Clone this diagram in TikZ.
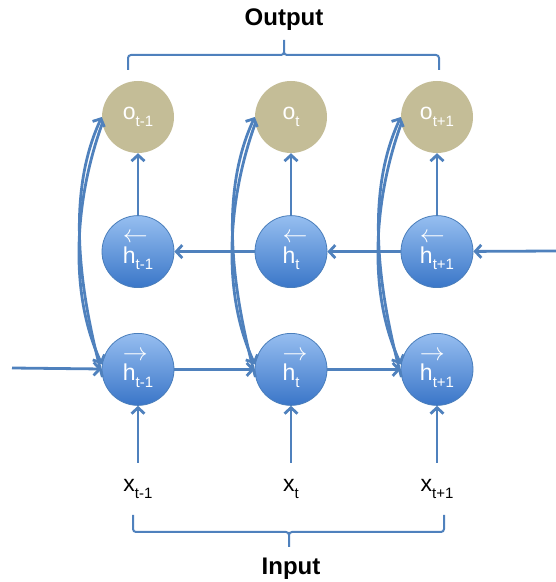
\documentclass[tikz,border=0pt]{standalone}
\usepackage{fontspec}
\setmainfont{Liberation Sans}
\usepackage{tikz}
\usetikzlibrary{positioning,arrows.meta}
\definecolor{wireblue}{RGB}{79,129,189}
\definecolor{tanfill}{RGB}{196,189,151}
\definecolor{cellhi}{RGB}{150,190,240}
\definecolor{celllo}{RGB}{58,118,200}
\definecolor{cellrim}{RGB}{74,126,187}
\newcommand{\lsub}[1]{\raisebox{-0.3em}{\fontsize{15}{15}\selectfont #1}}
\newcommand{\hdir}[1]{\makebox[0pt][l]{\raisebox{0.9em}{$#1$}}h}
\tikzset{
  unit/.style={circle, minimum size=72pt, inner sep=0pt, text=white,
    font=\fontsize{23}{23}\selectfont},
  outcell/.style={unit, fill=tanfill},
  hidcell/.style={unit, draw=cellrim, line width=0.8pt,
    top color=cellhi, bottom color=celllo},
  inlabel/.style={font=\fontsize{23}{23}\selectfont, anchor=base, inner ysep=17pt},
  title/.style={font=\bfseries\fontsize{24}{24}\selectfont},
  link/.style={draw=wireblue, line width=2.8pt,
    -{Straight Barb[length=6pt,width=13pt]}},
  brace/.style={draw=wireblue, line width=2pt, rounded corners=3pt}
}
\begin{document}
\begin{tikzpicture}[x=1pt, y=1pt]
  \useasboundingbox (0,0) rectangle (556,582);
  % output row
  \node[outcell] (o1) at (138,465) {o\lsub{t-1}};
  \node[outcell] (o2) at (291,465) {o\lsub{t}};
  \node[outcell] (o3) at (437,465) {o\lsub{t+1}};
  % backward and forward hidden rows
  \node[hidcell, below=62pt of o1] (bh1) {\hdir{\leftarrow}\lsub{t-1}};
  \node[hidcell, below=62pt of o2] (bh2) {\hdir{\leftarrow}\lsub{t}};
  \node[hidcell, below=62pt of o3] (bh3) {\hdir{\leftarrow}\lsub{t+1}};
  \node[hidcell, below=45pt of bh1] (fh1) {\hdir{\rightarrow}\lsub{t-1}};
  \node[hidcell, below=45pt of bh2] (fh2) {\hdir{\rightarrow}\lsub{t}};
  \node[hidcell, below=45pt of bh3] (fh3) {\hdir{\rightarrow}\lsub{t+1}};
  % inputs
  \node[inlabel] (x1) at (138,90) {x\lsub{t-1}};
  \node[inlabel] (x2) at (291,90) {x\lsub{t}};
  \node[inlabel] (x3) at (437,90) {x\lsub{t+1}};
  \coordinate (inL) at (12,214);
  \coordinate (inR) at (556,331);
%
  \draw[link] (inL) -- (fh1);
  \draw[link] (fh1) -- (fh2);
  \draw[link] (fh2) -- (fh3);
  \draw[link] (inR) -- (bh3);
  \draw[link] (bh3) -- (bh2);
  \draw[link] (bh2) -- (bh1);
  \draw[link] (x1) -- (fh1);
  \draw[link] (x2) -- (fh2);
  \draw[link] (x3) -- (fh3);
  \draw[link] (bh1) -- (o1);
  \draw[link] (bh2) -- (o2);
  \draw[link] (bh3) -- (o3);
  \draw[link] (fh1.192) to[out=105, in=245, looseness=0.85] (o1.180);
  \draw[link] (o1.190) to[out=250, in=115, looseness=0.85] (fh1.172);
  \draw[link] (fh2.192) to[out=105, in=245, looseness=0.85] (o2.180);
  \draw[link] (o2.190) to[out=250, in=115, looseness=0.85] (fh2.172);
  \draw[link] (fh3.192) to[out=105, in=245, looseness=0.85] (o3.180);
  \draw[link] (o3.190) to[out=250, in=115, looseness=0.85] (fh3.172);
%
  \draw[brace] (128,512) |- (284,527) -- (284,542)
               (439,512) |- (284,527) -- (284,542);
  \draw[brace] (133,67) |- (289,50) -- (289,35)
               (444,67) |- (289,50) -- (289,35);
  \node[title] (outtxt) at (284,562) {Output};
  \node[title] (intxt) at (291,13) {Input};
\end{tikzpicture}
\end{document}
